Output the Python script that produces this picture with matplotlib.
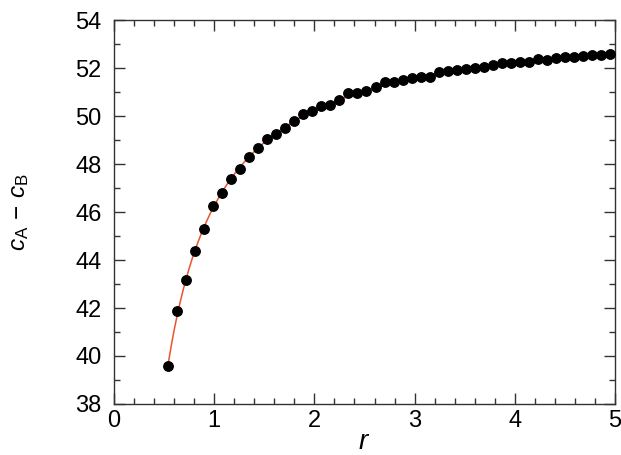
import numpy as np
import matplotlib
matplotlib.use("Agg")
import matplotlib.pyplot as plt
from matplotlib.ticker import MultipleLocator

plt.rcParams['font.family'] = ['Liberation Sans', 'DejaVu Sans']
plt.rcParams['mathtext.fontset'] = 'custom'
plt.rcParams['mathtext.rm'] = 'Liberation Sans'
plt.rcParams['mathtext.it'] = 'Liberation Sans:italic'

# data
r_vals = [0.54, 0.63, 0.72, 0.81, 0.90, 0.99, 1.08, 1.17, 1.26, 1.35,
          1.44, 1.53, 1.62, 1.71, 1.80, 1.89, 1.98, 2.07, 2.16, 2.25,
          2.34, 2.43, 2.52, 2.61, 2.70, 2.79, 2.88, 2.97, 3.06, 3.15,
          3.24, 3.33, 3.42, 3.51, 3.60, 3.69, 3.78, 3.87, 3.96, 4.05,
          4.14, 4.23, 4.32, 4.41, 4.50, 4.59, 4.68, 4.77, 4.86, 4.95]
dc_vals = [39.60, 41.87, 43.18, 44.37, 45.30, 46.24, 46.79, 47.37, 47.78, 48.31,
           48.68, 49.04, 49.27, 49.52, 49.78, 50.07, 50.20, 50.42, 50.46, 50.66,
           50.94, 50.96, 51.05, 51.20, 51.41, 51.41, 51.49, 51.59, 51.62, 51.63,
           51.83, 51.87, 51.91, 51.95, 52.01, 52.04, 52.12, 52.19, 52.20, 52.27,
           52.27, 52.36, 52.34, 52.41, 52.45, 52.47, 52.48, 52.55, 52.55, 52.58]

r = np.array(r_vals)
dc = np.array(dc_vals)

# smooth fit through the points: a + b/r + c/r^2
A = np.vstack([np.ones_like(r), 1 / r, 1 / r**2]).T
coef, *_ = np.linalg.lstsq(A, dc, rcond=None)
r_fine = np.linspace(r.min(), 5.0, 300)
fit = coef[0] + coef[1] / r_fine + coef[2] / r_fine**2

fig = plt.figure(figsize=(6.21, 4.55), dpi=100)
ax = fig.add_axes([0.1836, 0.1121, 0.8067, 0.8439])

ax.plot(r_fine, fit, color='#e9542d', linewidth=1.1, zorder=2)
ax.plot(r, dc, 'o', color='black', markersize=6.8, zorder=3)

ax.set_xlim(0, 5)
ax.set_ylim(38, 54)
ax.xaxis.set_major_locator(MultipleLocator(1))
ax.xaxis.set_minor_locator(MultipleLocator(0.2))
ax.yaxis.set_major_locator(MultipleLocator(2))
ax.yaxis.set_minor_locator(MultipleLocator(1))
ax.tick_params(which='both', direction='in', top=True, right=True,
               labelsize=17, color='#333333')
ax.tick_params(which='major', length=8, width=1)
ax.tick_params(which='minor', length=4, width=1)
ax.tick_params(axis='y', which='major', pad=9)
ax.tick_params(axis='x', which='major', pad=4)
for s in ax.spines.values():
    s.set_color('#333333')
    s.set_linewidth(1)

ax.set_xlabel(r'$r$', fontsize=20, labelpad=-2)
ax.set_ylabel(r'$c_{\mathrm{A}}\,-\,c_{\mathrm{B}}$', fontsize=17.5)
ax.yaxis.set_label_coords(-0.165, 0.5)

fig.savefig('out.png', dpi=100)
